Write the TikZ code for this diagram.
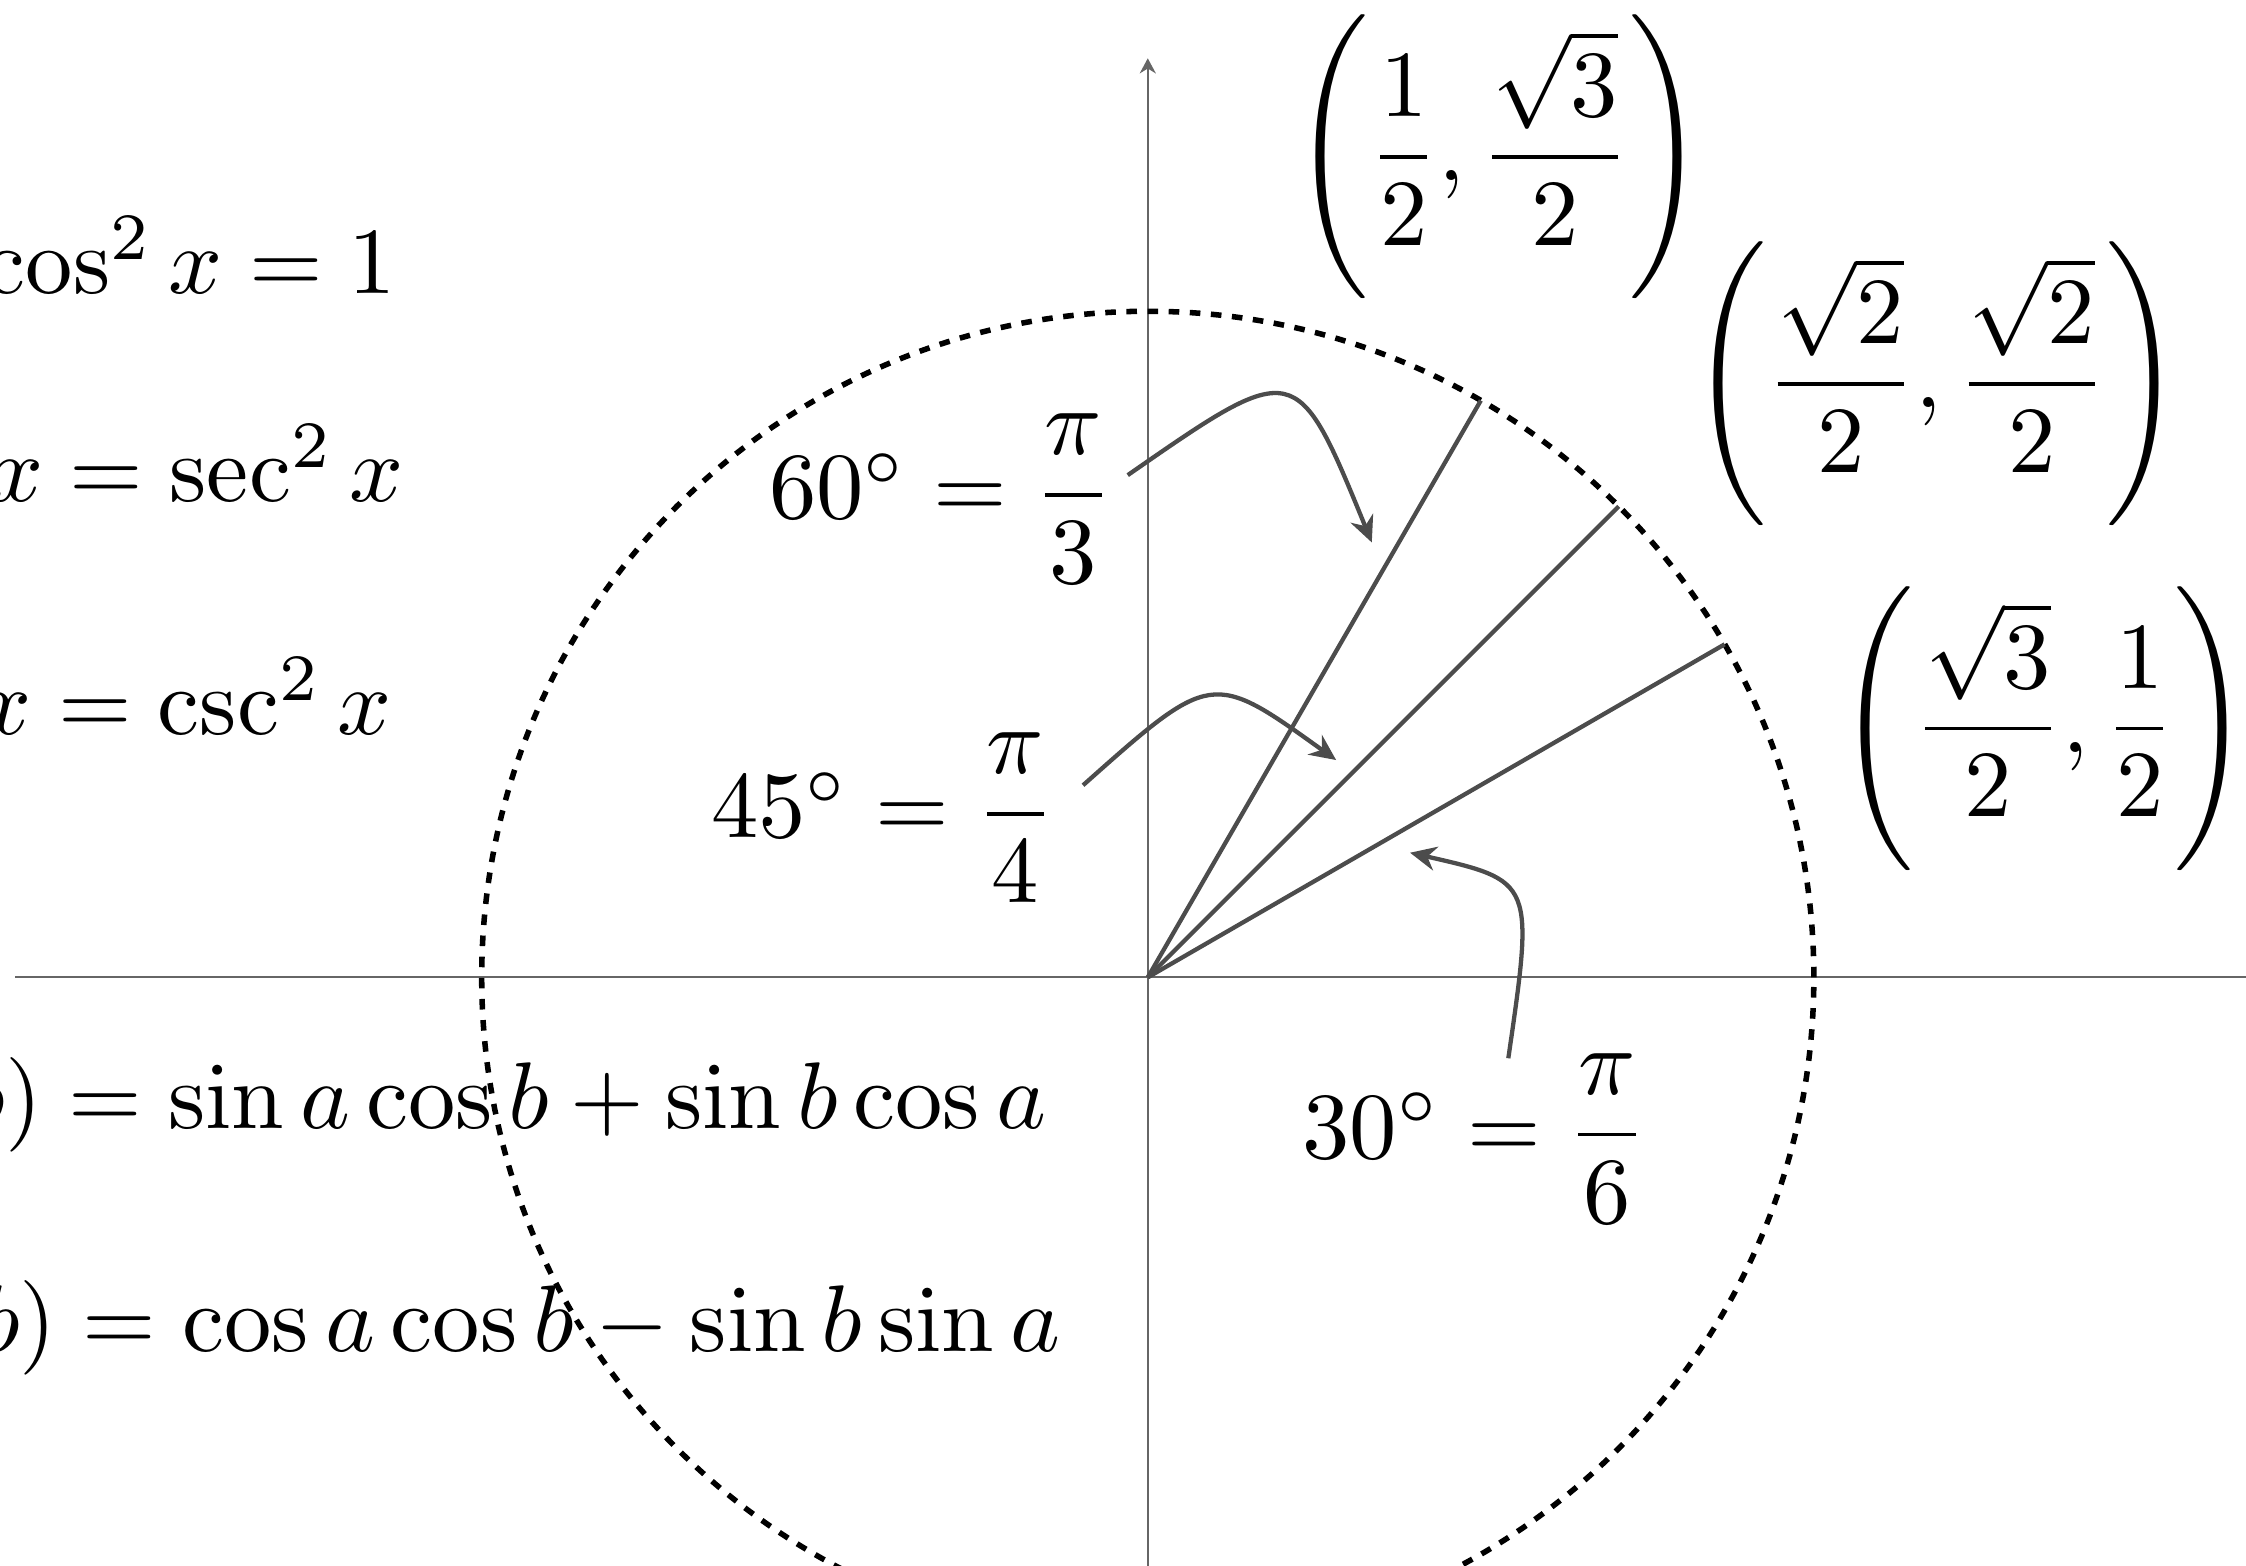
\documentclass[tikz,border=0pt]{standalone}
\usepackage{amsmath}
\usetikzlibrary{arrows.meta}
\newcommand{\trig}[1]{\scalebox{1.88}{$#1$}}

\begin{document}
\begin{tikzpicture}[
  big/.style  ={font=\normalsize, inner sep=0pt},
  ident/.style={big, anchor=base east},
  ang/.style  ={big, anchor=base east},
  pair/.style ={big},
  axis/.style ={thin, black!60, -{Stealth[length=3pt,width=3.2pt]}},
  ray/.style  ={line width=0.85pt, black!70},
  arr/.style  ={line width=0.85pt, black!70, -{Stealth[length=5.2pt,width=4.8pt]}},
  unit/.style ={line width=1.1pt, dash pattern=on 2.1pt off 2.1pt}
]
\useasboundingbox (-8.013,-4.107) rectangle (7.667,6.823);
\clip (-8.013,-4.107) rectangle (7.667,6.823);

\coordinate (O) at (0,0);
\coordinate (xl) at (-7.905,0);
\coordinate (xr) at (7.905,0);
\coordinate (yb) at (0,-6.416);
\coordinate (yt) at (0,6.416);
\draw[axis] (xl) -- (xr);
\draw[axis] (yb) -- (yt);

\draw[unit] (O) circle (4.65);

\foreach \a in {30,45,60}
  \coordinate (p\a) at (\a:4.65);
\foreach \a in {30,45,60}
  \draw[ray] (O) -- (p\a);

\node[ident] (id1) at (-5.238,4.775) {\trig{\sin^2 x + \cos^2 x = 1}};
\node[ident] (id2) at (-5.188,3.321) {\trig{1 + \tan^2 x = \sec^2 x}};
\node[ident] (id3) at (-5.270,1.692) {\trig{1 + \cot^2 x = \csc^2 x}};
\node[ident] (id4) at (-0.703,-1.053) {\trig{\sin(a+b) = \sin a\cos b + \sin b\cos a}};
\node[ident] (id5) at (-0.605,-2.614) {\trig{\cos(a+b) = \cos a\cos b - \sin b\sin a}};

\node[ang] (a60) at (-0.232,3.203) {\trig{60^\circ = \dfrac{\pi}{3}}};
\node[ang] (a45) at (-0.637,0.973) {\trig{45^\circ = \dfrac{\pi}{4}}};
\node[ang] (a30) at (3.492,-1.262) {\trig{30^\circ = \dfrac{\pi}{6}}};

\node[pair] (c60) at (2.453,5.729) {\trig{\left(\dfrac{1}{2}, \dfrac{\sqrt{3}}{2}\right)}};
\node[pair] (c45) at (5.504,4.143) {\trig{\left(\dfrac{\sqrt{2}}{2}, \dfrac{\sqrt{2}}{2}\right)}};
\node[pair] (c30) at (6.258,1.738) {\trig{\left(\dfrac{\sqrt{3}}{2}, \dfrac{1}{2}\right)}};

\coordinate (t60) at (1.564,3.036);
\coordinate (t45) at (1.315,1.517);
\coordinate (t30) at (1.831,0.870);

\draw[arr] ([xshift=0.092cm,yshift=0.303cm]a60.base east) .. controls (1.037,4.323) .. (t60);
\draw[arr] ([xshift=0.185cm,yshift=0.368cm]a45.base east) .. controls (0.447,2.141) .. (t45);
\draw[arr] ([xshift=-0.975cm,yshift=0.697cm]a30.base east) .. controls (2.697,0.673) .. (t30);
\end{tikzpicture}
\end{document}
